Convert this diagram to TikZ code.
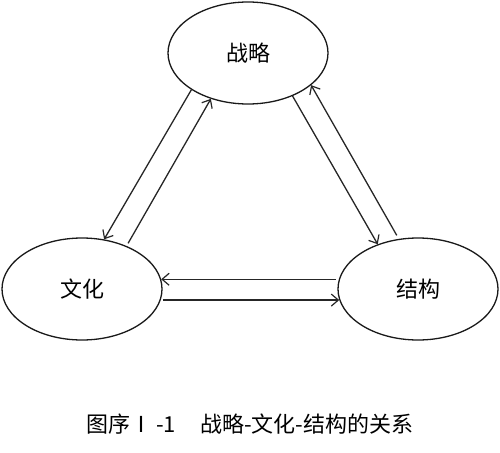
\documentclass[tikz,border=0pt]{standalone}
\usepackage{fontspec}
\setmainfont{Noto Sans CJK SC}
\usetikzlibrary{shapes.geometric,arrows.meta}
\begin{document}
\begin{tikzpicture}[x=1pt,y=-1pt,
  oval/.style={draw=black!90,line width=1.3pt,ellipse,minimum width=160pt,minimum height=102pt,inner sep=0pt,font=\fontsize{22}{24}\selectfont},
  link/.style={draw=black!85,line width=1.3pt,-{Straight Barb[length=7pt,width=12pt,line width=1.2pt]}}]
\useasboundingbox (0,0) rectangle (500,452);
\node[oval] (zl) at (248,53) {战略};
\node[oval] (wh) at (82,289) {文化};
\node[oval] (jg) at (418,289) {结构};
% left pair
\draw[link] (zl.213) -- (wh.66);
\draw[link,shorten <=3pt] (wh.44) -- (zl.231);
% right pair
\draw[link] (zl.316) -- (jg.132);
\draw[link,shorten <=4pt] (jg.111) -- (zl.333);
% horizontal pair
\draw[link,shorten <=3pt] (jg.173) -- (wh.7);
\draw[link,shorten <=2pt] (wh.-8) -- (jg.188);
\node[font=\fontsize{22}{24}\selectfont,inner sep=0pt] (cap) at (250,424) {图序Ⅰ\,-1\hspace{24pt}战略-文化-结构的关系};
\end{tikzpicture}
\end{document}
